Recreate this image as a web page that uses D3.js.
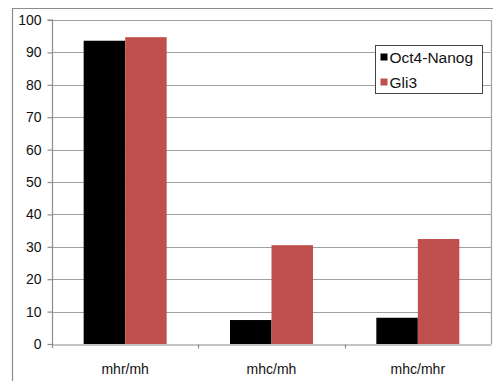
<!DOCTYPE html>
<html>
<head>
<meta charset="utf-8">
<script src="https://cdn.jsdelivr.net/npm/d3@7"></script>
<style>
  html, body { margin: 0; padding: 0; background: #fff; }
  svg { display: block; font-family: "Liberation Sans", Arial, Helvetica, sans-serif; }
</style>
</head>
<body>
<svg id="chart" width="493" height="381"></svg>
<script>
// Data
const categories = ["mhr/mh", "mhc/mh", "mhc/mhr"];
const seriesNames = ["Oct4-Nanog", "Gli3"];
const oct4Nanog = [93.6, 7.4, 8.1];
const gli3 = [94.7, 30.5, 32.4];
const yTicks = [0, 10, 20, 30, 40, 50, 60, 70, 80, 90, 100];
const colors = ["#000000", "#c0504d"];

const svg = d3.select("#chart");
const plot = { left: 52, right: 491, top: 20, bottom: 344 };

const x = d3.scaleBand().domain(categories).range([plot.left, plot.right]).padding(0);
const xs = d3.scaleBand().domain(seriesNames).range([0, x.bandwidth()])
  .paddingInner(0).paddingOuter(0.763);
const y = d3.scaleLinear().domain([0, 100]).range([plot.bottom, plot.top]);

// Outer chart frame (left and top edges)
svg.append("path")
  .attr("d", `M12.5,381 L12.5,8.5 L493,8.5`)
  .attr("fill", "none").attr("stroke", "#8c8c8c").attr("stroke-width", 1.2);

// Horizontal gridlines
svg.append("g").selectAll("line").data(yTicks.filter(d => d > 0)).join("line")
  .attr("x1", plot.left).attr("x2", plot.right)
  .attr("y1", d => Math.round(y(d)) + 0.5).attr("y2", d => Math.round(y(d)) + 0.5)
  .attr("stroke", "#a0a0a0").attr("stroke-width", 1.2);

// Right edge of plot area
svg.append("line")
  .attr("x1", plot.right + 0.5).attr("x2", plot.right + 0.5)
  .attr("y1", plot.top).attr("y2", plot.bottom)
  .attr("stroke", "#a0a0a0").attr("stroke-width", 1.2);

// Bars
const rows = categories.map((c, i) => ({ cat: c, vals: [oct4Nanog[i], gli3[i]] }));
svg.append("g").selectAll("g").data(rows).join("g")
  .attr("transform", d => `translate(${x(d.cat)},0)`)
  .selectAll("rect").data(d => d.vals.map((v, j) => ({ name: seriesNames[j], v, j })))
  .join("rect")
  .attr("x", d => xs(d.name))
  .attr("width", xs.bandwidth())
  .attr("y", d => y(d.v))
  .attr("height", d => y(0) - y(d.v))
  .attr("fill", d => colors[d.j]);

// Y axis
const yAxis = svg.append("g")
  .attr("transform", `translate(${plot.left + 0.5},0)`)
  .call(d3.axisLeft(y).tickValues(yTicks).tickSize(5).tickPadding(6).tickFormat(d3.format("d")));
yAxis.select(".domain").attr("stroke", "#8c8c8c").attr("stroke-width", 1.2)
  .attr("d", `M-5,${plot.top}H0V${plot.bottom + 4}`);
yAxis.selectAll(".tick line").attr("stroke", "#8c8c8c").attr("stroke-width", 1.2);
yAxis.selectAll(".tick text").attr("font-size", 14).attr("fill", "#111")
  .attr("font-family", "Liberation Sans, Arial, sans-serif");

// X axis
const xAxis = svg.append("g")
  .attr("transform", `translate(0,${plot.bottom + 0.5})`)
  .call(d3.axisBottom(x).tickSize(0).tickPadding(20));
xAxis.select(".domain").attr("stroke", "#8c8c8c").attr("stroke-width", 1.2);
xAxis.selectAll(".tick text").attr("font-size", 14).attr("fill", "#111")
  .attr("font-family", "Liberation Sans, Arial, sans-serif");
// Category separators
xAxis.append("g").selectAll("line").data(categories.slice(1)).join("line")
  .attr("x1", d => Math.round(x(d)) + 0.5).attr("x2", d => Math.round(x(d)) + 0.5)
  .attr("y1", 0).attr("y2", 4)
  .attr("stroke", "#8c8c8c").attr("stroke-width", 1.2);

// Legend
const legend = svg.append("g").attr("transform", "translate(375.5,45.5)");
legend.append("rect").attr("width", 107).attr("height", 48)
  .attr("fill", "#fff").attr("stroke", "#444").attr("stroke-width", 1);
seriesNames.forEach((name, i) => {
  const g = legend.append("g").attr("transform", `translate(0,${i * 25})`);
  g.append("rect").attr("x", 5).attr("y", 8).attr("width", 7).attr("height", 7)
    .attr("fill", colors[i]);
  g.append("text").attr("x", 14).attr("y", 17).attr("font-size", 15.5)
    .attr("fill", "#111").text(name);
});
</script>
</body>
</html>
